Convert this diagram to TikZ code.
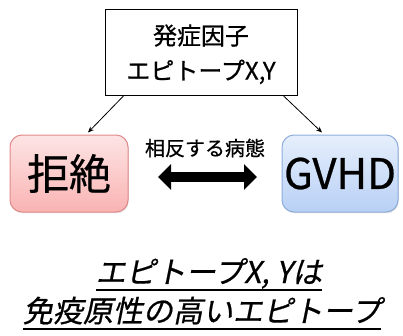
\documentclass[tikz,border=0pt]{standalone}
\usepackage{fontspec}
\setmainfont[FakeBold=0.6]{Noto Sans CJK JP}
\newfontfamily\cjkit[FakeSlant=0.2,FakeBold=0.6]{Noto Sans CJK JP}
\usetikzlibrary{arrows.meta,shadows}
\definecolor{pinktop}{HTML}{FDE4E4}
\definecolor{pinkbot}{HTML}{FAB3B3}
\definecolor{pinkline}{HTML}{E08A8A}
\definecolor{bluetop}{HTML}{E6EFFC}
\definecolor{bluebot}{HTML}{B8D0F5}
\definecolor{blueline}{HTML}{8DADDB}
\tikzset{
  causebox/.style={draw=black, line width=0.8pt, fill=white, align=center,
    minimum width=192pt, minimum height=86pt, inner sep=0pt,
    font=\fontsize{24}{35}\selectfont},
  outbox/.style={rounded corners=12pt, line width=1pt, minimum height=77pt,
    inner sep=0pt, font=\fontsize{42}{46}\selectfont,
    drop shadow={shadow xshift=0.8pt, shadow yshift=-1.2pt, opacity=0.25}},
  thinarrow/.style={line width=0.8pt, -{Stealth[length=6pt,width=5pt]}},
  bigarrow/.style={line width=10pt, {Triangle[length=13pt,width=25pt]}-{Triangle[length=13pt,width=25pt]}},
  bottomtext/.style={inner sep=0pt, font=\cjkit\fontsize{30}{36}\selectfont},
  uline/.style={line width=1.8pt}
}
\begin{document}
\begin{tikzpicture}[x=1pt,y=-1pt]
\useasboundingbox (0,0) rectangle (403,335);
\node[causebox, text depth=-6pt] (top) at (201,52) {発症因子\\エピトープX,Y};
\node[outbox, draw=pinkline, top color=pinktop, bottom color=pinkbot,
  minimum width=118pt] (rej) at (69,173.5) {拒絶};
\node[outbox, draw=blueline, top color=bluetop, bottom color=bluebot,
  minimum width=116pt] (gvhd) at (340,173.5) {GVHD};
\draw[thinarrow] ([xshift=-77pt]top.south) -- ([xshift=19pt,yshift=2pt]rej.north);
\draw[thinarrow] ([xshift=82pt]top.south) -- ([xshift=-18pt,yshift=2pt]gvhd.north);
\node[font=\fontsize{20}{24}\selectfont] (lbl) at (205,148) {相反する病態};
\coordinate (al) at (158,177);
\coordinate (ar) at (257,177);
\draw[bigarrow] (al) -- (ar);
\node[bottomtext, anchor=base] (l1) at (209,283) {エピトープX, Yは};
\node[bottomtext, anchor=base] (l2) at (202,322) {免疫原性の高いエピトープ};
\draw[uline] ([yshift=-7pt]l1.base west) -- ([yshift=-7pt]l1.base east);
\draw[uline] ([yshift=-7pt]l2.base west) -- ([yshift=-7pt]l2.base east);
\end{tikzpicture}
\end{document}
